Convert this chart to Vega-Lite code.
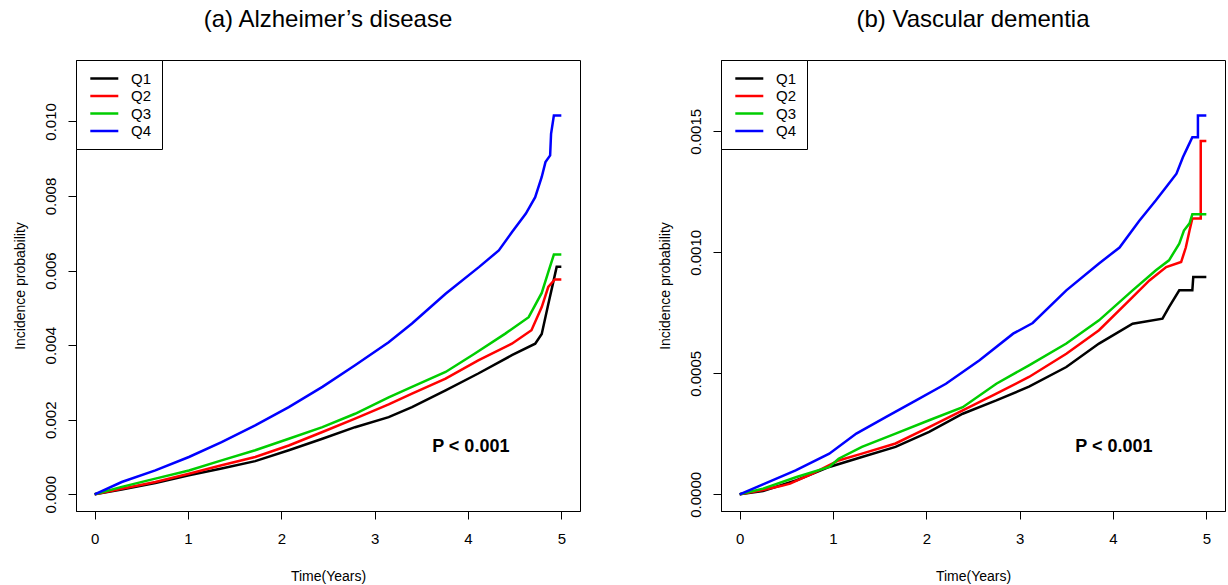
{
  "$schema": "https://vega.github.io/schema/vega-lite/v6.json",
  "padding": {"left": 12, "top": 7, "right": 0, "bottom": 0},
  "datasets": {
    "ad": [
      {"q":"Q1","t":0,"v":0},{"q":"Q1","t":0.29,"v":0.000125},{"q":"Q1","t":0.65,"v":0.0003},{"q":"Q1","t":1.01,"v":0.00051},{"q":"Q1","t":1.36,"v":0.00069},{"q":"Q1","t":1.72,"v":0.00089},{"q":"Q1","t":2.08,"v":0.00118},{"q":"Q1","t":2.44,"v":0.00149},{"q":"Q1","t":2.79,"v":0.0018},{"q":"Q1","t":3.15,"v":0.00207},{"q":"Q1","t":3.4,"v":0.00234},{"q":"Q1","t":3.76,"v":0.00279},{"q":"Q1","t":4.11,"v":0.00324},{"q":"Q1","t":4.47,"v":0.00373},{"q":"Q1","t":4.72,"v":0.00404},{"q":"Q1","t":4.79,"v":0.0043},{"q":"Q1","t":4.86,"v":0.0051},{"q":"Q1","t":4.91,"v":0.00565},{"q":"Q1","t":4.95,"v":0.0061},{"q":"Q1","t":5.0,"v":0.0061},
      {"q":"Q2","t":0,"v":0},{"q":"Q2","t":0.29,"v":0.00015},{"q":"Q2","t":0.65,"v":0.00033},{"q":"Q2","t":1.01,"v":0.00055},{"q":"Q2","t":1.36,"v":0.00078},{"q":"Q2","t":1.72,"v":0.001},{"q":"Q2","t":2.08,"v":0.00131},{"q":"Q2","t":2.44,"v":0.00167},{"q":"Q2","t":2.79,"v":0.00203},{"q":"Q2","t":3.15,"v":0.00241},{"q":"Q2","t":3.4,"v":0.0027},{"q":"Q2","t":3.76,"v":0.0031},{"q":"Q2","t":4.11,"v":0.00359},{"q":"Q2","t":4.47,"v":0.00404},{"q":"Q2","t":4.68,"v":0.0044},{"q":"Q2","t":4.79,"v":0.00502},{"q":"Q2","t":4.86,"v":0.00556},{"q":"Q2","t":4.93,"v":0.00576},{"q":"Q2","t":5.0,"v":0.00576},
      {"q":"Q3","t":0,"v":0},{"q":"Q3","t":0.29,"v":0.0002},{"q":"Q3","t":0.65,"v":0.00042},{"q":"Q3","t":1.01,"v":0.00064},{"q":"Q3","t":1.36,"v":0.00091},{"q":"Q3","t":1.72,"v":0.00118},{"q":"Q3","t":2.08,"v":0.00149},{"q":"Q3","t":2.44,"v":0.0018},{"q":"Q3","t":2.79,"v":0.00216},{"q":"Q3","t":3.15,"v":0.0026},{"q":"Q3","t":3.4,"v":0.00288},{"q":"Q3","t":3.76,"v":0.00328},{"q":"Q3","t":4.07,"v":0.00377},{"q":"Q3","t":4.4,"v":0.00431},{"q":"Q3","t":4.65,"v":0.00475},{"q":"Q3","t":4.79,"v":0.0054},{"q":"Q3","t":4.86,"v":0.00596},{"q":"Q3","t":4.92,"v":0.00643},{"q":"Q3","t":5.0,"v":0.00643},
      {"q":"Q4","t":0,"v":0},{"q":"Q4","t":0.29,"v":0.00033},{"q":"Q4","t":0.65,"v":0.00064},{"q":"Q4","t":1.01,"v":0.001},{"q":"Q4","t":1.36,"v":0.0014},{"q":"Q4","t":1.72,"v":0.00185},{"q":"Q4","t":2.08,"v":0.00234},{"q":"Q4","t":2.44,"v":0.00288},{"q":"Q4","t":2.79,"v":0.00346},{"q":"Q4","t":3.15,"v":0.00408},{"q":"Q4","t":3.4,"v":0.00458},{"q":"Q4","t":3.76,"v":0.00538},{"q":"Q4","t":4.12,"v":0.0061},{"q":"Q4","t":4.33,"v":0.00654},{"q":"Q4","t":4.47,"v":0.00703},{"q":"Q4","t":4.62,"v":0.00753},{"q":"Q4","t":4.72,"v":0.00797},{"q":"Q4","t":4.79,"v":0.00851},{"q":"Q4","t":4.83,"v":0.00891},{"q":"Q4","t":4.88,"v":0.00909},{"q":"Q4","t":4.89,"v":0.00967},{"q":"Q4","t":4.92,"v":0.01016},{"q":"Q4","t":5.0,"v":0.01016}
    ],
    "vd": [
      {"q":"Q1","t":0,"v":0},{"q":"Q1","t":0.25,"v":0.000014},{"q":"Q1","t":0.61,"v":0.000058},{"q":"Q1","t":0.96,"v":0.000113},{"q":"Q1","t":1.31,"v":0.000154},{"q":"Q1","t":1.67,"v":0.000196},{"q":"Q1","t":2.03,"v":0.000258},{"q":"Q1","t":2.39,"v":0.000333},{"q":"Q1","t":2.75,"v":0.000388},{"q":"Q1","t":3.1,"v":0.000445},{"q":"Q1","t":3.5,"v":0.000526},{"q":"Q1","t":3.85,"v":0.000623},{"q":"Q1","t":4.21,"v":0.000705},{"q":"Q1","t":4.53,"v":0.000726},{"q":"Q1","t":4.6,"v":0.000774},{"q":"Q1","t":4.71,"v":0.000843},{"q":"Q1","t":4.85,"v":0.000843},{"q":"Q1","t":4.86,"v":0.000898},{"q":"Q1","t":5.0,"v":0.000898},
      {"q":"Q2","t":0,"v":0},{"q":"Q2","t":0.25,"v":0.000018},{"q":"Q2","t":0.45,"v":0.000035},{"q":"Q2","t":0.54,"v":0.000044},{"q":"Q2","t":0.78,"v":0.0000855},{"q":"Q2","t":1.06,"v":0.00014},{"q":"Q2","t":1.31,"v":0.000168},{"q":"Q2","t":1.67,"v":0.00021},{"q":"Q2","t":2.03,"v":0.000278},{"q":"Q2","t":2.39,"v":0.000347},{"q":"Q2","t":2.75,"v":0.000416},{"q":"Q2","t":3.1,"v":0.000485},{"q":"Q2","t":3.5,"v":0.000581},{"q":"Q2","t":3.85,"v":0.000678},{"q":"Q2","t":4.21,"v":0.000815},{"q":"Q2","t":4.39,"v":0.000884},{"q":"Q2","t":4.57,"v":0.000939},{"q":"Q2","t":4.73,"v":0.00096},{"q":"Q2","t":4.78,"v":0.00102},{"q":"Q2","t":4.82,"v":0.00109},{"q":"Q2","t":4.85,"v":0.00114},{"q":"Q2","t":4.94,"v":0.00114},{"q":"Q2","t":4.94,"v":0.00146},{"q":"Q2","t":5.0,"v":0.00146},
      {"q":"Q3","t":0,"v":0},{"q":"Q3","t":0.25,"v":0.0000234},{"q":"Q3","t":0.61,"v":0.0000716},{"q":"Q3","t":0.96,"v":0.000113},{"q":"Q3","t":1.06,"v":0.000147},{"q":"Q3","t":1.31,"v":0.000196},{"q":"Q3","t":1.67,"v":0.000251},{"q":"Q3","t":2.03,"v":0.000306},{"q":"Q3","t":2.39,"v":0.00036},{"q":"Q3","t":2.75,"v":0.000457},{"q":"Q3","t":3.1,"v":0.000533},{"q":"Q3","t":3.5,"v":0.000623},{"q":"Q3","t":3.85,"v":0.000719},{"q":"Q3","t":4.21,"v":0.000843},{"q":"Q3","t":4.46,"v":0.000926},{"q":"Q3","t":4.6,"v":0.000967},{"q":"Q3","t":4.71,"v":0.001036},{"q":"Q3","t":4.76,"v":0.00109},{"q":"Q3","t":4.82,"v":0.00112},{"q":"Q3","t":4.85,"v":0.001157},{"q":"Q3","t":5.0,"v":0.001157},
      {"q":"Q4","t":0,"v":0},{"q":"Q4","t":0.25,"v":0.0000413},{"q":"Q4","t":0.6,"v":0.000099},{"q":"Q4","t":0.96,"v":0.000168},{"q":"Q4","t":1.25,"v":0.000251},{"q":"Q4","t":1.57,"v":0.00032},{"q":"Q4","t":1.89,"v":0.000388},{"q":"Q4","t":2.21,"v":0.000457},{"q":"Q4","t":2.57,"v":0.000554},{"q":"Q4","t":2.93,"v":0.000664},{"q":"Q4","t":3.14,"v":0.000708},{"q":"Q4","t":3.5,"v":0.000843},{"q":"Q4","t":3.85,"v":0.000954},{"q":"Q4","t":4.07,"v":0.00102},{"q":"Q4","t":4.28,"v":0.00113},{"q":"Q4","t":4.46,"v":0.001215},{"q":"Q4","t":4.57,"v":0.00127},{"q":"Q4","t":4.68,"v":0.001325},{"q":"Q4","t":4.75,"v":0.001394},{"q":"Q4","t":4.8,"v":0.001435},{"q":"Q4","t":4.85,"v":0.001476},{"q":"Q4","t":4.91,"v":0.001476},{"q":"Q4","t":4.91,"v":0.001566},{"q":"Q4","t":5.0,"v":0.001566}
    ],
    "pa": [{"t":4.03,"v":0.00127,"label":"P < 0.001"}],
    "pb": [{"t":4.01,"v":0.000195,"label":"P < 0.001"}]
  },
  "hconcat": [
    {
      "width": 504, "height": 451,
      "title": {"text": "(a) Alzheimer’s disease"},
      "layer": [
        {
          "data": {"name": "ad"},
          "mark": {"type": "line", "strokeWidth": 2.5, "clip": true},
          "encoding": {
            "x": {"field": "t", "type": "quantitative", "scale": {"domain": [-0.2, 5.2], "nice": false, "zero": false}, "axis": {"values": [0,1,2,3,4,5], "format": "d", "title": "Time(Years)"}},
            "y": {"field": "v", "type": "quantitative", "scale": {"domain": [-0.000448, 0.011648], "nice": false, "zero": false}, "axis": {"values": [0,0.002,0.004,0.006,0.008,0.01], "format": ".3f", "title": "Incidence probability"}},
            "color": {"field": "q", "type": "nominal", "scale": {"domain": ["Q1","Q2","Q3","Q4"], "range": ["#000000","#ff0000","#00cd00","#0000ff"]}}
          }
        },
        {
          "data": {"name": "pa"},
          "mark": {"type": "text", "fontSize": 18, "fontWeight": "bold", "font": "Liberation Sans", "color": "black"},
          "encoding": {
            "x": {"field": "t", "type": "quantitative", "scale": {"domain": [-0.2, 5.2], "nice": false, "zero": false}},
            "y": {"field": "v", "type": "quantitative", "scale": {"domain": [-0.000448, 0.011648], "nice": false, "zero": false}},
            "text": {"field": "label"}
          }
        }
      ]
    },
    {
      "width": 504, "height": 451,
      "title": {"text": "(b) Vascular dementia"},
      "layer": [
        {
          "data": {"name": "vd"},
          "mark": {"type": "line", "strokeWidth": 2.5, "clip": true},
          "encoding": {
            "x": {"field": "t", "type": "quantitative", "scale": {"domain": [-0.2, 5.2], "nice": false, "zero": false}, "axis": {"values": [0,1,2,3,4,5], "format": "d", "title": "Time(Years)"}},
            "y": {"field": "v", "type": "quantitative", "scale": {"domain": [-0.000069, 0.001795], "nice": false, "zero": false}, "axis": {"values": [0,0.0005,0.001,0.0015], "format": ".4f", "title": "Incidence probability"}},
            "color": {"field": "q", "type": "nominal", "scale": {"domain": ["Q1","Q2","Q3","Q4"], "range": ["#000000","#ff0000","#00cd00","#0000ff"]}}
          }
        },
        {
          "data": {"name": "pb"},
          "mark": {"type": "text", "fontSize": 18, "fontWeight": "bold", "font": "Liberation Sans", "color": "black"},
          "encoding": {
            "x": {"field": "t", "type": "quantitative", "scale": {"domain": [-0.2, 5.2], "nice": false, "zero": false}},
            "y": {"field": "v", "type": "quantitative", "scale": {"domain": [-0.000069, 0.001795], "nice": false, "zero": false}},
            "text": {"field": "label"}
          }
        }
      ]
    }
  ],
  "spacing": 76,
  "resolve": {"scale": {"color": "independent"}, "legend": {"color": "independent"}},
  "config": {
    "font": "Liberation Sans",
    "view": {"stroke": "black", "strokeWidth": 1},
    "title": {"fontSize": 24, "fontWeight": "normal", "font": "Liberation Sans", "anchor": "middle", "offset": 28, "color": "black"},
    "axis": {
      "grid": false, "domainColor": "black", "tickColor": "black", "tickSize": 8,
      "labelFont": "Liberation Sans", "labelFontSize": 15, "labelColor": "black",
      "titleFont": "Liberation Sans", "titleFontSize": 14, "titleFontWeight": "normal", "titleColor": "black"
    },
    "axisX": {"labelPadding": 12, "titlePadding": 23},
    "axisY": {"labelAngle": -90, "labelPadding": 10, "titlePadding": 16},
    "legend": {
      "title": null, "orient": "top-left", "offset": 0, "strokeColor": "black", "fillColor": "white",
      "padding": 10, "symbolType": "M-0.6,0L3.4,0", "symbolSize": 196, "symbolStrokeWidth": 2.5,
      "labelFont": "Liberation Sans", "labelFontSize": 15, "labelColor": "black", "rowPadding": 0.5, "labelOffset": 28
    }
  }
}
